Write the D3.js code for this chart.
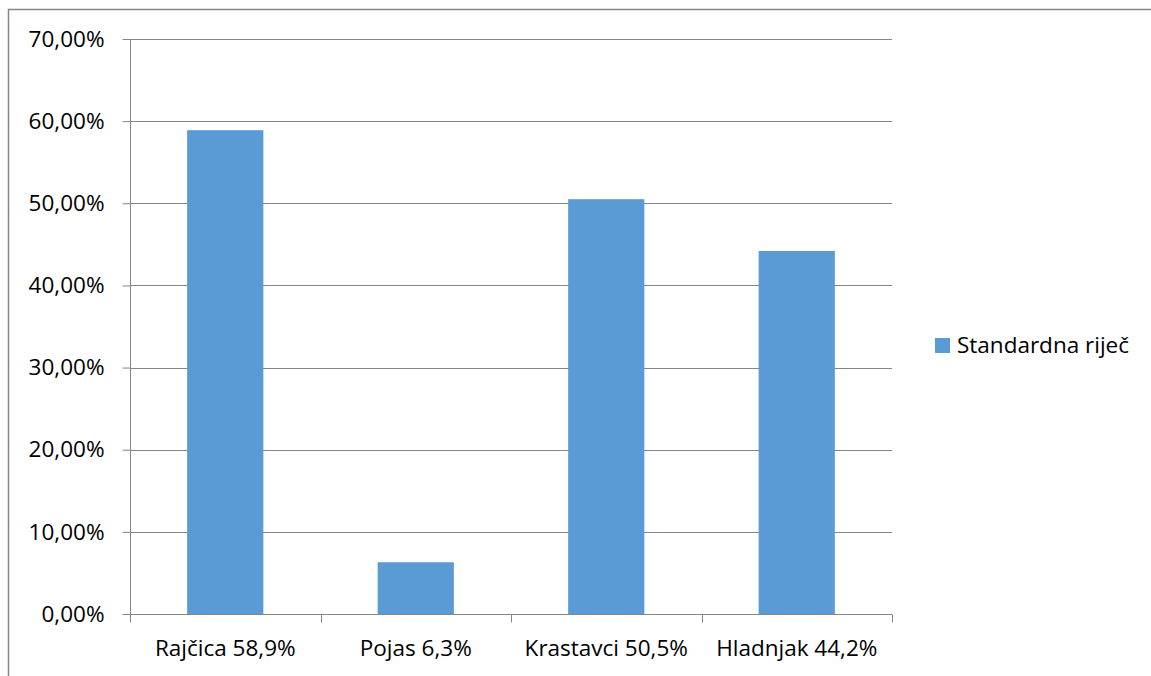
<!DOCTYPE html>
<html><head><meta charset="utf-8">
<script src="https://cdn.jsdelivr.net/npm/d3@7"></script>
<style>html,body{margin:0;padding:0;background:#fff;}svg{display:block;}</style>
</head><body>
<svg id="c" width="1151" height="676"></svg>
<script>
const categories = ["Rajčica 58,9%", "Pojas 6,3%", "Krastavci 50,5%", "Hladnjak 44,2%"];
const values = [0.589, 0.063, 0.505, 0.442];
const seriesName = "Standardna riječ";
const yTicks = [0, 0.1, 0.2, 0.3, 0.4, 0.5, 0.6, 0.7];

(function(){
const svg = d3.select("#c");
const font = "'Open Sans', sans-serif";
const fs = 22.5;
const pLeft = 130, pRight = 892, pTop = 39, pBottom = 614;

// outer frame
svg.append("path").attr("d", "M8.5,676 V9.5 H1151").attr("fill","none").attr("stroke","#868686").attr("stroke-width",1.5);

const x = d3.scaleBand().domain(categories).range([pLeft, pRight]).paddingInner(0.6).paddingOuter(0.3);
const xb = d3.scaleBand().domain(categories).range([pLeft, pRight]);
const y = d3.scaleLinear().domain([0, 0.7]).range([pBottom, pTop]);

const fmt = v => (v*100).toFixed(2).replace(".", ",") + "%";

// gridlines
svg.append("g").selectAll("line").data(yTicks.slice(1)).join("line")
  .attr("x1", pLeft).attr("x2", pRight).attr("y1", d => Math.round(y(d))+0.5).attr("y2", d => Math.round(y(d))+0.5)
  .attr("stroke", "#868686").attr("stroke-width", 1);

// bars
svg.append("g").selectAll("rect").data(values).join("rect")
  .attr("x", (d,i) => x(categories[i])).attr("width", x.bandwidth())
  .attr("y", d => y(d)).attr("height", d => pBottom - y(d))
  .attr("fill", "#5B9BD5");

// y axis
const yAxis = svg.append("g").attr("transform", `translate(${pLeft+0.5},0)`)
  .call(d3.axisLeft(y).tickValues(yTicks).tickFormat(fmt).tickSize(8).tickPadding(18));
yAxis.select(".domain").attr("stroke", "#868686").attr("d", `M0,${pTop}V${pBottom+8}`);
yAxis.selectAll(".tick line").attr("stroke", "#868686");
yAxis.selectAll(".tick text").attr("font-family", font).attr("font-size", fs).attr("fill", "#000");

// x axis
const xAxis = svg.append("g").attr("transform", `translate(0,${pBottom+0.5})`)
  .call(d3.axisBottom(xb).tickSize(0).tickPadding(26));
xAxis.select(".domain").attr("stroke", "#868686").attr("d", `M${pLeft},0H${pRight}`);
xAxis.selectAll(".tick text").attr("font-family", font).attr("font-size", fs).attr("fill", "#000");
const bounds = [pLeft, ...categories.map(c => xb(c) + xb.bandwidth())];
xAxis.append("g").selectAll("line").data(bounds).join("line")
  .attr("x1", d => Math.round(d)+0.5).attr("x2", d => Math.round(d)+0.5).attr("y1", 0).attr("y2", 8)
  .attr("stroke", "#868686");

// legend
const lg = svg.append("g").attr("transform", "translate(935,338)");
lg.append("rect").attr("width", 15).attr("height", 15).attr("fill", "#5B9BD5");
lg.append("text").attr("x", 22).attr("y", 15).attr("font-family", font).attr("font-size", fs).text(seriesName);
})();
</script>
</body></html>
